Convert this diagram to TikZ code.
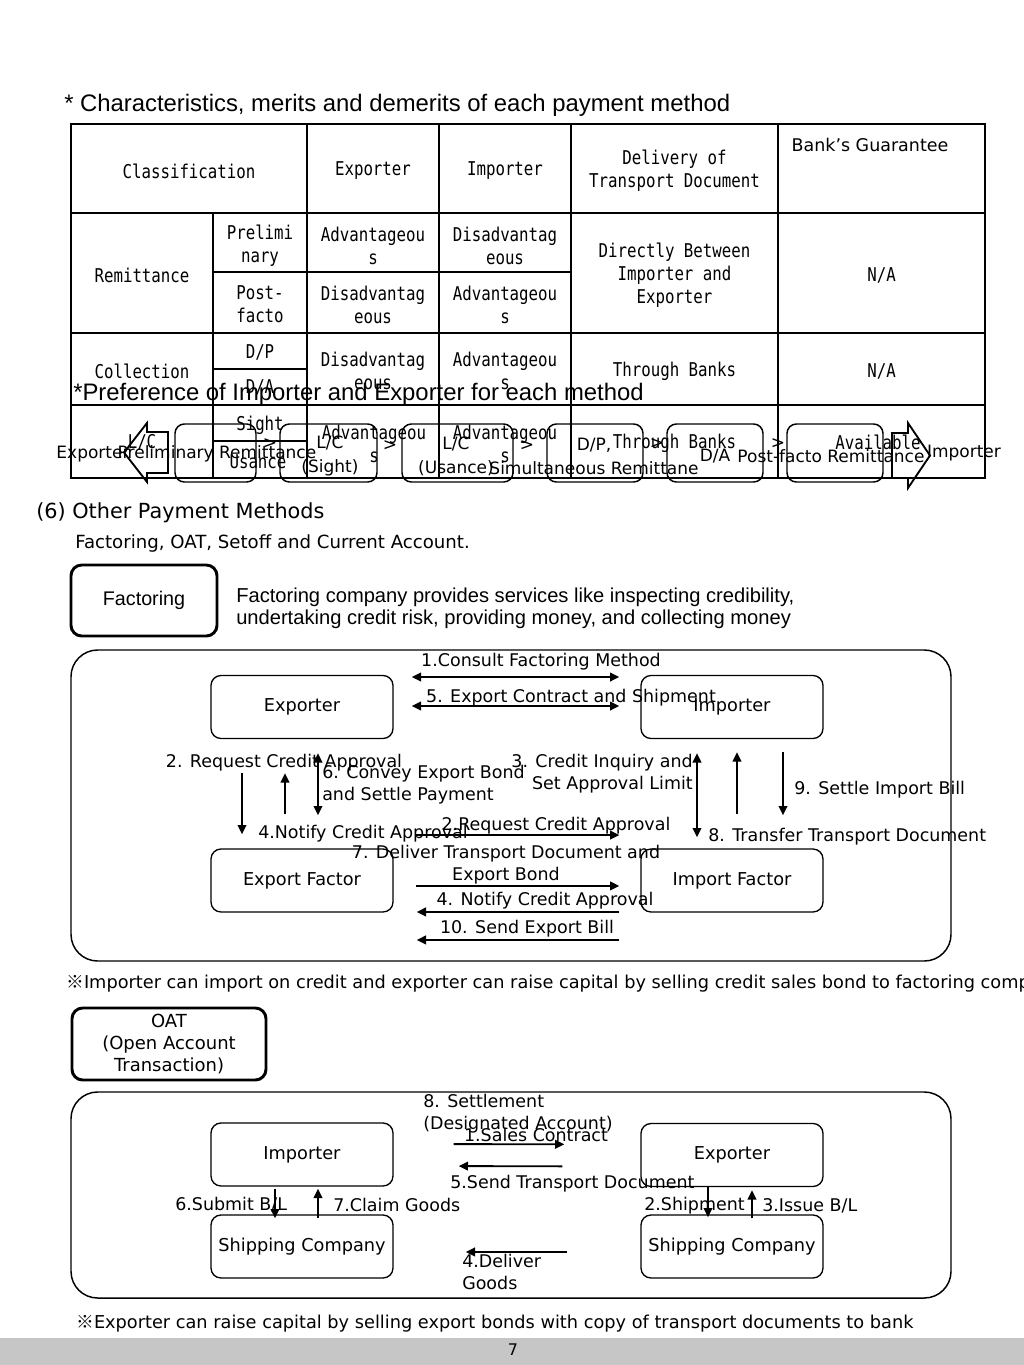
\documentclass[tikz,border=0pt]{standalone}
\usepackage{fontspec}
\setmainfont{DejaVu Sans}
\newfontfamily\arialfont{Liberation Sans}
\newfontfamily\tblfont[FakeStretch=0.83]{DejaVu Sans Mono}
\newfontfamily\cjkfont{Noto Sans CJK KR}
\usetikzlibrary{positioning,arrows.meta}

\begin{document}
\begin{tikzpicture}[x=0.75pt,y=-0.75pt,
	every node/.style={inner sep=0pt},
	cell/.style={font=\tblfont\fontsize{14.25}{17.25}\selectfont, align=center},
	lbl/.style={font=\fontsize{13.1}{16.5}\selectfont, yshift=-1.5pt},
	box/.style={draw, rounded corners=7.5pt, line width=1pt, minimum width=136.5pt, minimum height=47.25pt, font=\fontsize{13.3}{16.5}\selectfont},
	bigbox/.style={draw, rounded corners=8pt, line width=2.2pt},
	prefbox/.style={draw, rounded corners=7pt, line width=1.1pt, minimum width=72pt, minimum height=43.5pt},
	pref/.style={font=\fontsize{12.75}{18}\selectfont, align=center},
	frame/.style={rounded corners=20pt, line width=1.1pt},
	arr/.style={line width=1.4pt, -{Triangle[length=7pt,width=6.5pt]}},
	dblarr/.style={line width=1.4pt, {Triangle[length=7pt,width=6.5pt]}-{Triangle[length=7pt,width=6.5pt]}}]

	\useasboundingbox (0,0) rectangle (1024,1365);
	\fill[white] (0,0) rectangle (1024,1365);

%table
	\node[anchor=west, font=\arialfont\fontsize{17.9}{20}\selectfont] (title) at (64,105) {* Characteristics, merits and demerits of each payment method};
	\draw[line width=1.5pt] (71,124) rectangle (985,478);
	\foreach \y in {213,333,405}
		\draw[line width=1.5pt] (71,\y) -- (985,\y);
	\foreach \x in {307,439,571,778}
		\draw[line width=1.5pt] (\x,124) -- (\x,478);
	\draw[line width=1.5pt] (213,213) -- (213,478);
	\draw[line width=1.5pt] (213,272) -- (571,272);
	\draw[line width=1.5pt] (213,369) -- (307,369);
	\draw[line width=1.5pt] (213,441) -- (307,441);

	%head
	\node[cell] (hcls) at (189,171) {Classification};
	\node[cell] (hexp) at (373,171) {Exporter};
	\node[cell] (himp) at (505,171) {Importer};
	\node[cell] (hdel) at (674.5,170.5) {Delivery of\\Transport Document};
	\node[lbl] (hgua) at (870,143) {Bank’s Guarantee};
	%remittance
	\node[cell] (rrem) at (142,275) {Remittance};
	\node[cell] (rpre) at (260,245.5) {Prelimi\\nary};
	\node[cell] (rpos) at (260,304.5) {Post-\\facto};
	\node[cell] (rexa) at (373,245.5) {Advantageou\\s};
	\node[cell] (rima) at (505,245.5) {Disadvantag\\eous};
	\node[cell] (rexb) at (373,304.5) {Disadvantag\\eous};
	\node[cell] (rimb) at (505,304.5) {Advantageou\\s};
	\node[cell] (rdel) at (674.5,275.5) {Directly Between\\Importer and\\Exporter};
	\node[cell] (rgua) at (881.5,275) {N/A};
	%collection
	\node[cell] (ccol) at (142,371) {Collection};
	\node[cell] (cdp) at (260,352) {D/P};
	\node[cell] (cda) at (260,387) {D/A};
	\node[cell] (cexp) at (373,371) {Disadvantag\\eous};
	\node[cell] (cimp) at (505,371) {Advantageou\\s};
	\node[cell] (cdel) at (674.5,371) {Through Banks};
	\node[cell] (cgua) at (881.5,371) {N/A};
	%l/c
	\node[cell] (llc) at (142,442) {L/C};
	\node[cell] (lsig) at (260,425) {Sight};
	\node[cell] (lusa) at (258,462) {Usance};
	\node[cell] (lexp) at (374,444) {Advantageou\\s};
	\node[cell] (limp) at (505,444) {Advantageou\\s};
	\node[cell] (ldel) at (674.5,443) {Through Banks};
	\node[cell] (lgua) at (878,442) {Available};

%preference
	\node[anchor=west, font=\arialfont\fontsize{17.9}{20}\selectfont] (ptitle) at (73,394) {*Preference of Importer and Exporter for each method};
	\draw[line width=1.4pt] (168,432) -- (147,432) -- (147,423) -- (124,452.5) -- (147,482) -- (147,473) -- (168,473) -- cycle;
	\draw[line width=1.4pt] (892,433) -- (908,433) -- (908,423) -- (930,455.5) -- (908,488) -- (908,478) -- (892,478) -- cycle;
	\node[prefbox, minimum width=60.75pt] (pb1) at (215.5,453) {};
	\node[prefbox, minimum width=72.75pt] (pb2) at (328.5,453) {};
	\node[prefbox, minimum width=83.25pt] (pb3) at (457.5,453) {};
	\node[prefbox] (pb4) at (595,453) {};
	\node[prefbox] (pb5) at (715,453) {};
	\node[prefbox] (pb6) at (835,453) {};
	\node[pref] (pexp) at (93,454) {Exporter};
	\node[pref] (pt1) at (217,454) {Preliminary Remittance};
	\node[pref] (pt2) at (330,456) {L/C\\(Sight)};
	\node[pref] (pt3) at (456,456) {L/C\\(Usance)};
	\node[pref] (pt4) at (594,456) {D/P,\\Simultaneous Remittane};
	\node[pref] (pt5) at (715,456) {D/A};
	\node[pref] (pt6) at (831,456) {Post-facto Remittance};
	\node[pref] (pimp) at (964,453) {Importer};
	\foreach \x/\y [count=\i] in {270/444,390/446,527/446,657/444,778/444}
		\node[pref] (gt\i) at (\x,\y) {>};

%(6)
	\node[anchor=west, font=\fontsize{15.6}{18}\selectfont] (sec) at (36,513) {(6) Other Payment Methods};
	\node[anchor=west, font=\fontsize{13.6}{16}\selectfont] (seclist) at (75,543) {Factoring, OAT, Setoff and Current Account.};

%factoring
	\node[bigbox, minimum width=109.5pt, minimum height=53.25pt, font=\arialfont\fontsize{14.8}{16}\selectfont] (fact) at (144,600.5) {Factoring};
	\node[anchor=west, align=left, font=\arialfont\fontsize{15.1}{16.5}\selectfont] (factdesc) at (236,608) {Factoring company provides services like inspecting credibility,\\undertaking credit risk, providing money, and collecting money};
	\draw[frame] (71,650) rectangle (951,961);

	\node[box] (fexp) at (302,707) {Exporter};
	\node[box] (fimp) at (732,707) {Importer};
	\node[box] (fexf) at (302,880.5) {Export Factor};
	\node[box] (fimf) at (732,880.5) {Import Factor};

	%top
	\draw[dblarr, shorten <=13.5pt, shorten >=15.75pt] ([yshift=22.5pt]fexp.east) -- ([yshift=22.5pt]fimp.west);
	\draw[dblarr, shorten <=13.5pt, shorten >=15.75pt] ([yshift=0.75pt]fexp.east) -- ([yshift=0.75pt]fimp.west);
	\node[lbl] (fl1) at (541,660) {1.Consult Factoring Method};
	\node[lbl] (fl5) at (571,696) {5. Export Contract and Shipment};
	%left
	\draw[arr, shorten <=25.5pt, shorten >=10.5pt] ([xshift=-45pt]fexp.south) -- ([xshift=-45pt]fexf.north);
	\draw[arr, shorten <=25.5pt, shorten >=25.5pt] ([xshift=-12.75pt]fexf.north) -- ([xshift=-12.75pt]fexp.south);
	\draw[dblarr, shorten <=10.5pt, shorten >=24.75pt] ([xshift=12pt]fexp.south) -- ([xshift=12pt]fexf.north);
	\node[lbl] (fl2a) at (284,761) {2. Request Credit Approval};
	\node[lbl, anchor=west, align=left] (fl6) at (322,783) {6. Convey Export Bond\\and Settle Payment};
	\node[lbl, anchor=west] (fl4a) at (258,832) {4.Notify Credit Approval};
	%right
	\draw[dblarr, shorten <=10.5pt, shorten >=8.25pt] ([xshift=-26.25pt]fimp.south) -- ([xshift=-26.25pt]fimf.north);
	\draw[arr, shorten <=25.5pt, shorten >=9.75pt] ([xshift=3.75pt]fimf.north) -- ([xshift=3.75pt]fimp.south);
	\draw[arr, shorten <=9.75pt, shorten >=24.75pt] ([xshift=38.25pt]fimp.south) -- ([xshift=38.25pt]fimf.north);
	\node[lbl, anchor=east, align=right] (fl3) at (693,771.5) {3. Credit Inquiry and\\Set Approval Limit};
	\node[lbl, anchor=west] (fl9) at (794,788) {9. Settle Import Bill};
	\node[lbl, anchor=west] (fl8) at (708,835) {8. Transfer Transport Document};
	%bottom
	\draw[arr, shorten <=16.5pt, shorten >=15.75pt] ([yshift=34.1pt]fexf.east) -- ([yshift=34.1pt]fimf.west);
	\draw[arr, shorten <=16.5pt, shorten >=15.75pt] ([yshift=-4.1pt]fexf.east) -- ([yshift=-4.1pt]fimf.west);
	\draw[arr, shorten <=15.75pt, shorten >=17.25pt] ([yshift=-23.6pt]fimf.west) -- ([yshift=-23.6pt]fexf.east);
	\draw[arr, shorten <=15.75pt, shorten >=17.25pt] ([yshift=-44.6pt]fimf.west) -- ([yshift=-44.6pt]fexf.east);
	\node[lbl] (fl2b) at (556,824) {2.Request Credit Approval};
	\node[lbl, align=center] (fl7) at (506,863) {7. Deliver Transport Document and\\Export Bond};
	\node[lbl] (fl4b) at (545,899) {4. Notify Credit Approval};
	\node[lbl] (fl10) at (527,927) {10. Send Export Bill};

	\node[lbl, anchor=west, font=\fontsize{13.3}{16.5}\selectfont] (note1) at (66,982) {{\cjkfont ※}Importer can import on credit and exporter can raise capital by selling credit sales bond to factoring comp};

%oat
	\node[bigbox, minimum width=145.5pt, minimum height=54pt, align=center, font=\fontsize{13.5}{16.8}\selectfont] (oat) at (169,1044) {OAT\\(Open Account\\Transaction)};
	\draw[frame] (71,1092) rectangle (951,1298);

	\node[box] (oimp) at (302,1154.5) {Importer};
	\node[box] (oexp) at (732,1155) {Exporter};
	\node[box] (oshl) at (302,1246.5) {Shipping Company};
	\node[box] (oshr) at (732,1246.5) {Shipping Company};

	\draw[arr, shorten <=45pt, shorten >=57pt] ([yshift=7.9pt]oimp.east) -- ([yshift=7.9pt]oexp.west);
	\draw[arr, shorten <=58.5pt, shorten >=48.75pt] ([yshift=-8.6pt]oexp.west) -- ([yshift=-8.6pt]oimp.east);
	\draw[arr, shorten <=54.75pt, shorten >=54pt] ([yshift=-4.1pt]oshr.west) -- ([yshift=-4.1pt]oshl.east);
	\node[lbl, anchor=west, align=left] (ol8) at (423,1111.5) {8. Settlement\\(Designated Account)};
	\node[lbl] (ol1) at (536,1133) {1.Sales Contract};
	\node[lbl, anchor=west] (ol5) at (450,1182) {5.Send Transport Document};
	\node[lbl, anchor=west, align=left] (ol4) at (462,1270) {4.Deliver\\Goods};

	\draw[arr, shorten <=1.5pt, shorten >=-3pt] ([xshift=-20.25pt]oimp.south) -- ([xshift=-20.25pt]oshl.north);
	\draw[arr, shorten <=-3pt, shorten >=1.5pt] ([xshift=12pt]oshl.north) -- ([xshift=12pt]oimp.south);
	\draw[arr, shorten <=0pt, shorten >=-2.25pt] ([xshift=-18pt]oexp.south) -- ([xshift=-18pt]oshr.north);
	\draw[arr, shorten <=-3pt, shorten >=2.25pt] ([xshift=15pt]oshr.north) -- ([xshift=15pt]oexp.south);
	\node[lbl, anchor=west] (ol6) at (175,1203) {6.Submit B/L};
	\node[lbl, anchor=west] (ol7) at (333,1203) {7.Claim Goods};
	\node[lbl, anchor=west] (ol2) at (644,1204) {2.Shipment};
	\node[lbl, anchor=west] (ol3) at (762,1204) {3.Issue B/L};

	\node[lbl, anchor=west, font=\fontsize{13.3}{16.5}\selectfont] (note2) at (76,1322) {{\cjkfont ※}Exporter can raise capital by selling export bonds with copy of transport documents to bank};

%page
	\fill[gray!45] (0,1338) rectangle (1024,1365);
	\node[font=\fontsize{12}{14}\selectfont] (page) at (513,1350) {7};
\end{tikzpicture}
\end{document}
